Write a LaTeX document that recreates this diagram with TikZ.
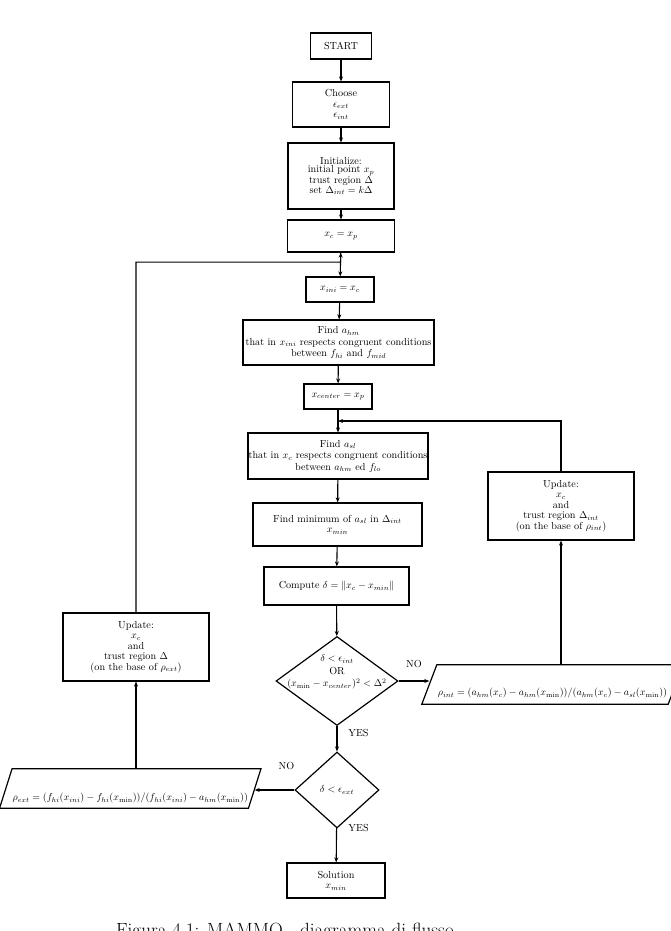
\documentclass[tikz,border=0pt]{standalone}
\usetikzlibrary{shapes.geometric,arrows.meta,positioning,calc}
\begin{document}
\begin{tikzpicture}[x=1pt,y=-1pt,
    every node/.style={font=\fontsize{10.2}{10.5}\selectfont},
    block/.style={rectangle,draw,line width=1.2pt,align=center,inner sep=0pt},
    decision/.style={diamond,draw,line width=1.2pt,inner sep=0pt},
    io/.style={rectangle,inner sep=0pt},
    outline/.style={line width=1.2pt},
    flow/.style={line width=1.1pt,-{Stealth[length=5pt,width=4pt]}}]
  \useasboundingbox (0,0) rectangle (671,931);

  % main column
  \path (341,46) node[block,minimum width=61,minimum height=26] (start) {START};
  \path (341,104.5) node[block,minimum width=97,minimum height=45] (choose) {Choose\\$\epsilon_{ext}$\\$\epsilon_{int}$};
  \path (341,176) node[block,minimum width=106,minimum height=66,font=\fontsize{10.2}{8.5}\selectfont] (init) {Initialize:\\initial point $x_p$\\trust region $\Delta$\\set $\Delta_{int}=k\Delta$};
  \path (341,236) node[block,minimum width=107,minimum height=32] (xc) {$x_c=x_p$};
  \path (340,289.5) node[block,minimum width=68,minimum height=25] (xini) {$x_{ini}=x_c$};
  \path (338.5,342.5) node[block,minimum width=191,minimum height=45,font=\fontsize{10.2}{11.5}\selectfont] (findhm) {Find $a_{hm}$\\that in $x_{ini}$ respects congruent conditions\\between $f_{hi}$ and $f_{mid}$};
  \path (338,396.5) node[block,minimum width=68,minimum height=25] (xcenter) {$x_{center}=x_p$};
  \path (338,456) node[block,minimum width=180,minimum height=46,font=\fontsize{10.2}{11.5}\selectfont] (findsl) {Find $a_{sl}$\\that in $x_c$ respects congruent conditions\\between $a_{hm}$ ed $f_{lo}$};
  \path (337.5,524.5) node[block,minimum width=169,minimum height=43] (findmin) {Find minimum of $a_{sl}$ in $\Delta_{int}$\\$x_{min}$};
  \path (336.5,586) node[block,minimum width=145,minimum height=38] (compute) {Compute $\delta=\|x_c-x_{min}\|$};
  \path (337,681) node[decision,minimum width=122,minimum height=89,
      label={[align=center,yshift=9pt,font=\fontsize{10.2}{12.5}\selectfont]center:$\delta<\epsilon_{int}$\\OR\\$(x_{\min}-x_{center})^2<\Delta^2$}] (cond) {};
  \path (337,790) node[decision,minimum width=84,minimum height=76] (stop) {$\delta<\epsilon_{ext}$};
  \path (336,880.5) node[block,minimum width=98,minimum height=35] (sol) {Solution\\$x_{min}$};

  % inner loop
  \path (552.5,684.5) node[io,minimum width=246,minimum height=39,
      label={[yshift=-8.5pt]center:$\rho_{int}=(a_{hm}(x_c)-a_{hm}(x_{\min}))/(a_{hm}(x_c)-a_{sl}(x_{\min}))$}] (rhoint) {};
  \draw[outline] ([xshift=-7.5pt]rhoint.south west) -- ([xshift=-7.5pt]rhoint.south east)
    -- ([xshift=7.5pt]rhoint.north east) -- ([xshift=7.5pt]rhoint.north west) -- cycle;
  \path (561,506) node[block,minimum width=146,minimum height=68] (updint) {Update:\\$x_c$\\and\\trust region $\Delta_{int}$\\(on the base of $\rho_{int}$)};

  % outer loop
  \path (130.25,788.5) node[io,minimum width=248.5,minimum height=39,
      label={[yshift=-9.5pt]center:$\rho_{ext}=(f_{hi}(x_{ini})-f_{hi}(x_{\min}))/(f_{hi}(x_{ini})-a_{hm}(x_{\min}))$}] (rhoext) {};
  \draw[outline] ([xshift=-6.25pt]rhoext.south west) -- ([xshift=-6.25pt]rhoext.south east)
    -- ([xshift=6.25pt]rhoext.north east) -- ([xshift=6.25pt]rhoext.north west) -- cycle;
  \path (136,647) node[block,minimum width=146,minimum height=68] (updext) {Update:\\$x_c$\\and\\trust region $\Delta$\\(on the base of $\rho_{ext}$)};

  \path (285,936) node[anchor=base,inner sep=0pt,font=\fontsize{19.1}{22}\selectfont] (caption) {Figura 4.1: MAMMO - diagramma di flusso};

  \coordinate (inner) at ($(xcenter.south)!.5!(findsl.north)$);
  \coordinate (outer) at ($(xc.south)!.4!(xini.north)$);

  \draw[flow] (start) -- (choose);
  \draw[flow] (choose) -- (init);
  \draw[flow] (init) -- (xc);
  \draw[flow] (xc) -- (xini);
  \draw[flow] (xini) -- (findhm);
  \draw[flow] (findhm) -- (xcenter);
  \draw[flow] (xcenter) -- (findsl);
  \draw[flow] (findsl) -- (findmin);
  \draw[flow] (findmin) -- (compute);
  \draw[flow] (compute) -- (cond);
  \draw[flow] (cond.east) -- node[above=9pt]{NO} (rhoint.west |- cond.east);
  \draw[flow] (updint.south |- rhoint.north) -- (updint);
  \draw[flow] (updint) |- (inner);
  \draw[flow] (cond) -- node[right=7.5pt,pos=0.27]{YES} (stop);
  \draw[flow] (stop.west) -- node[above=16pt,pos=0.2]{NO} (rhoext.east |- stop.west);
  \draw[flow] (updext.south |- rhoext.north) -- (updext);
  \draw[flow] (updext) |- (outer) -- (xc);
  \draw[flow] (stop) -- node[right=8pt,pos=0]{YES} (sol);
\end{tikzpicture}
\end{document}
